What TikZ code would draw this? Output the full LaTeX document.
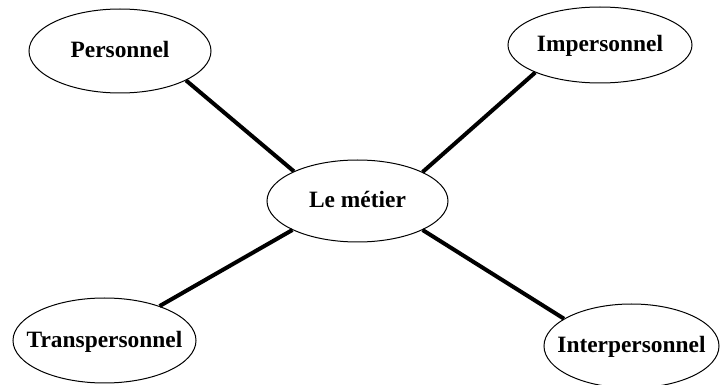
\documentclass[tikz,border=0pt]{standalone}
\usepackage{fontspec}
\setmainfont{Liberation Serif}
\usetikzlibrary{shapes.geometric}
\begin{document}
\begin{tikzpicture}[x=0.5pt,y=-0.5pt,
  bubble/.style={draw, ellipse, line width=0.5pt, inner sep=0pt,
    label={[font=\fontsize{11.7pt}{14pt}\selectfont\bfseries, text height=0.66em, text depth=0pt, inner sep=0pt]center:#1}},
  link/.style={line width=2pt}]
\useasboundingbox (0,0) rectangle (720,385);
\node[bubble=Personnel, minimum width=91pt, minimum height=42pt] (pers) at (120,51) {};
\node[bubble=Impersonnel, minimum width=92pt, minimum height=38pt] (imp) at (600,45) {};
\node[bubble={Le métier}, minimum width=90.5pt, minimum height=41pt] (met) at (357.5,201) {};
\node[bubble=Transpersonnel, minimum width=91.5pt, minimum height=42.5pt] (trans) at (104.5,340.5) {};
\node[bubble=Interpersonnel, minimum width=87.5pt, minimum height=42pt] (inter) at (631.5,346) {};
\draw[link] (pers.-24) -- (met.155.8);
\draw[link] (imp.-157.4) -- (met.24.2);
\draw[link] (trans.32.8) -- (met.204.2);
\draw[link] (inter.158.6) -- (met.-24.2);
\end{tikzpicture}
\end{document}
